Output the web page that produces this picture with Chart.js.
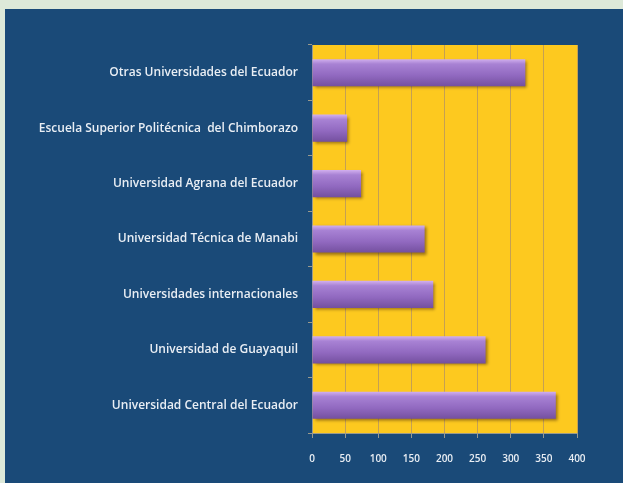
<!DOCTYPE html>
<html>
<head>
<meta charset="utf-8">
<script src="https://cdn.jsdelivr.net/npm/chart.js@4.4.1/dist/chart.umd.min.js"></script>
<style>
    html, body {
        margin: 0;
        padding: 0;
        width: 623px;
        height: 483px;
        background: #dde9d9;
        overflow: hidden;
    }
    #panel {
        position: absolute;
        left: 5px;
        top: 9px;
        width: 618px;
        height: 474px;
        background: #1a4a78;
    }
</style>
</head>
<body>
<div id="panel">
    <canvas id="univ-chart" width="618" height="474"></canvas>
</div>
<script>
// Data (top to bottom)
const universidades = [
    "Otras Universidades del Ecuador",
    "Escuela Superior Politécnica  del Chimborazo",
    "Universidad Agrana del Ecuador",
    "Universidad Técnica de Manabi",
    "Universidades internacionales",
    "Universidad de Guayaquil",
    "Universidad Central del Ecuador",
];
const cantidades = [322, 53, 74, 170, 183, 262, 368];
const ejeMin = 0;
const ejeMax = 400;
const ejePaso = 50;

const colors = {
    plotBg: "#fdc91f",
    grid: "#c5a052",
    axis: "#9a9a8c",
    text: "#e9eef4",
};

// yellow plot background
const plotBackground = {
    id: "plotBackground",
    beforeDraw(chart) {
        const { ctx, chartArea } = chart;
        ctx.save();
        ctx.fillStyle = colors.plotBg;
        ctx.fillRect(
            chartArea.left,
            chartArea.top,
            chartArea.right - chartArea.left,
            chartArea.bottom - chartArea.top
        );
        ctx.restore();
    },
};

// per-bar vertical gradient + soft shadow, like the 3D-ish office bars
const barLook = {
    id: "barLook",
    beforeDatasetDraw(chart, args) {
        const { ctx } = chart;
        args.meta.data.forEach((bar) => {
            const top = bar.y - bar.height / 2;
            const bottom = bar.y + bar.height / 2;
            const g = ctx.createLinearGradient(0, top, 0, bottom);
            g.addColorStop(0, "#d2b0ee");
            g.addColorStop(0.18, "#a882d4");
            g.addColorStop(0.6, "#9169c0");
            g.addColorStop(1, "#74509f");
            bar.options.backgroundColor = g;
        });
        ctx.save();
        ctx.shadowColor = "rgba(70, 40, 10, 0.55)";
        ctx.shadowOffsetX = 2;
        ctx.shadowOffsetY = 2;
        ctx.shadowBlur = 3;
    },
    afterDatasetDraw(chart) {
        chart.ctx.restore();
    },
};

const ctx = document.getElementById("univ-chart");

new Chart(ctx, {
    type: "bar",
    data: {
        labels: universidades,
        datasets: [
            {
                data: cantidades,
                // scriptable so every bar gets its own options object
                backgroundColor: () => "#9169c0",
                borderWidth: 0,
                barPercentage: 0.49,
                categoryPercentage: 1,
            },
        ],
    },
    options: {
        indexAxis: "y",
        responsive: false,
        animation: false,
        layout: {
            padding: { top: 36, right: 46, left: 0, bottom: 0 },
        },
        scales: {
            x: {
                min: ejeMin,
                max: ejeMax,
                ticks: {
                    stepSize: ejePaso,
                    color: colors.text,
                    padding: 15,
                    font: { family: "Open Sans", size: 10, weight: "600" },
                },
                grid: {
                    color: colors.grid,
                    tickColor: colors.axis,
                    tickLength: 5,
                },
                border: { display: true, color: colors.axis },
                afterFit: (scale) => {
                    scale.height = 50;
                },
            },
            y: {
                ticks: {
                    color: colors.text,
                    padding: 10,
                    font: { family: "Open Sans", size: 12, weight: "600" },
                },
                grid: {
                    drawOnChartArea: false,
                    tickColor: colors.axis,
                    tickLength: 4,
                },
                border: { display: true, color: colors.axis },
                afterFit: (scale) => {
                    scale.width = 307;
                },
            },
        },
        plugins: {
            legend: { display: false },
            tooltip: { enabled: false },
        },
    },
    plugins: [plotBackground, barLook],
});
</script>
</body>
</html>
